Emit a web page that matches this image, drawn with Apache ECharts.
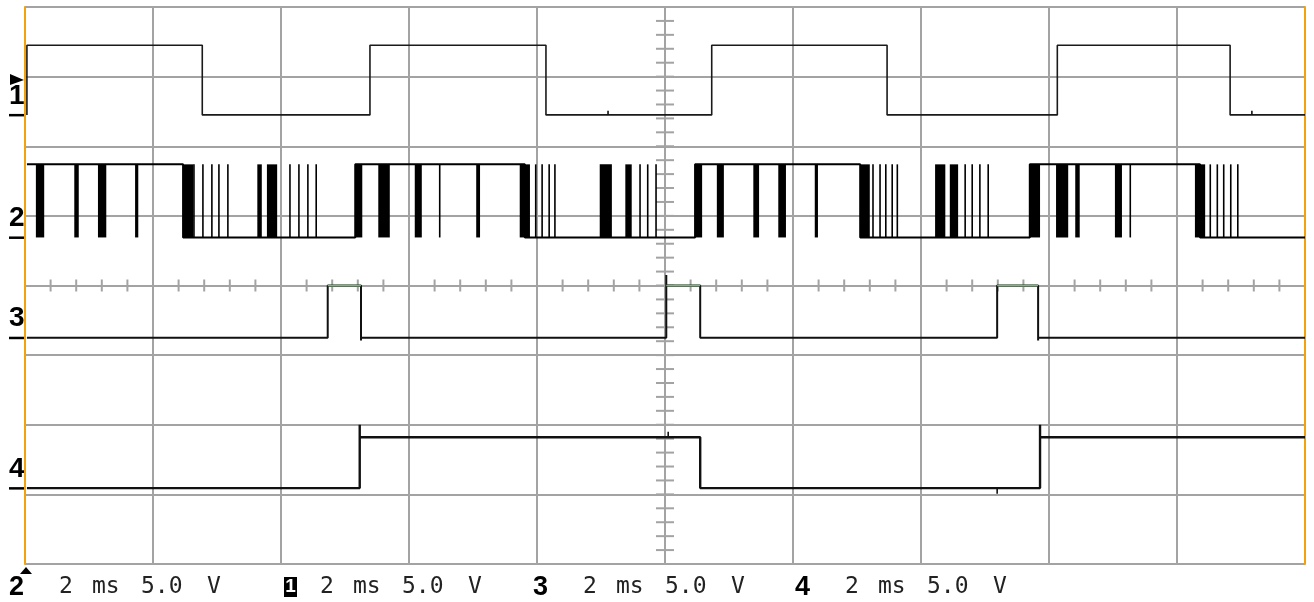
<!DOCTYPE html>
<html><head><meta charset="utf-8">
<script src="https://cdn.jsdelivr.net/npm/echarts@6/dist/echarts.min.js"></script>
<style>html,body{margin:0;padding:0;background:#fff}#c{width:1314px;height:602px}</style>
</head><body><div id="c"></div>
<script>
// Horizontal: time in ms (2 ms/div, 10 div). Vertical: screen divisions (0 bottom .. 8 top), 5 V/div
const T_MAX = 20;
const DIVS = 8;

// Channel 1
const ch1Lo = 6.45, ch1Hi = 7.45, ch1Trig = 6.95;
const ch1StartHigh = false;
const ch1Edges = [0.03, 2.77, 5.39, 8.14, 10.73, 13.47, 16.13, 18.83];
const ch1Glitch = [[9.11, 6.45, 6.51], [19.17, 6.45, 6.51]];

// Channel 2 (base level edges, plus dense bursts and thin pulses)
const ch2Lo = 4.69, ch2Hi = 5.74;
const ch2StartHigh = true;
const ch2Edges = [2.47, 5.16, 7.81, 10.47, 13.05, 15.70, 18.36];
const ch2Bars = [
  [0.17,0.30],[0.77,0.84],[1.14,1.27],[1.72,1.77],[2.47,2.63],[3.63,3.70],[3.78,3.94],[5.16,5.27],
  [5.52,5.70],[6.09,6.20],[7.05,7.11],[7.73,7.89],[8.98,9.17],[9.38,9.48],
  [10.47,10.58],[10.81,10.92],[11.38,11.47],[11.77,11.89],[12.34,12.39],[13.05,13.20],[14.22,14.38],[14.45,14.58],
  [15.70,15.86],[16.11,16.30],[16.41,16.48],[17.03,17.14],[18.28,18.44]
];
const ch2Spikes = [
  2.64,2.78,2.92,3.03,3.17, 4.14,4.28,4.42,4.55,
  6.48, 7.98,8.08,8.19,8.28, 9.61,9.73,9.86,
  13.25,13.36,13.45,13.55,13.63, 14.69,14.80,14.92,15.05,
  17.27, 18.52,18.63,18.73,18.84,18.95
];

// Channel 3
const ch3Lo = 3.25, ch3Hi = 4.0;
const ch3StartHigh = false;
const ch3Edges = [4.73, 5.25, 10.02, 10.55, 15.19, 15.83];
const ch3Over  = [null, 3.21, 4.15, null, null, 3.21];

// Channel 4
const ch4Lo = 1.09, ch4Hi = 1.82;
const ch4StartHigh = false;
const ch4Edges = [5.23, 10.55, 15.86];
const ch4Over  = [2.0, null, 2.0];
const ch4Glitch = [[15.19, 1.09, 1.01], [10.05, 1.82, 1.9]];

// Screen texts
const chNames = ['1','2','3','4'];
const footMarks = ['2','1','3','4'];
const footTokens = ['2','ms','5.0','V'];

function steps(startHigh, edges, lo, hi, over, t0) {
  let lvl = startHigh ? hi : lo;
  const pts = [[t0, lvl]];
  edges.forEach((t, i) => {
    const nxt = (lvl === hi) ? lo : hi;
    pts.push([t, lvl]);
    if (over && over[i] != null) pts.push([t, over[i]]);
    pts.push([t, nxt]);
    lvl = nxt;
  });
  pts.push([T_MAX, lvl]);
  return pts;
}
function highSegs(startHigh, edges) {
  const segs = []; let high = startHigh, from = 0;
  edges.forEach(t => { if (high) segs.push([from, t]); high = !high; from = t; });
  if (high) segs.push([from, T_MAX]);
  return segs;
}

const ch1Data = steps(ch1StartHigh, ch1Edges, ch1Lo, ch1Hi, null, ch1Edges[0]);
const ch2Data = steps(ch2StartHigh, ch2Edges, ch2Lo, ch2Hi, null, 0.03);
const ch3Data = steps(ch3StartHigh, ch3Edges, ch3Lo, ch3Hi, ch3Over, 0.03);
const ch4Data = steps(ch4StartHigh, ch4Edges, ch4Lo, ch4Hi, ch4Over, 0.03);
const ch3Green = highSegs(ch3StartHigh, ch3Edges);
const glitches = ch1Glitch.concat(ch4Glitch);

const hTicks = []; for (let k = 1; k < 50; k++) hTicks.push([k * 0.4]);
const vTicks = []; for (let k = 1; k < 40; k++) vTicks.push([k * 0.2]);

const chart = echarts.init(document.getElementById('c'), null, {renderer: 'canvas'});
const GRAY = '#a3a3a3', ORANGE = '#f2a20c';

const option = {
  backgroundColor: '#ffffff',
  animation: false,
  grid: {left: 25, top: 7, width: 1280, height: 557, containLabel: false},
  xAxis: [{
    type: 'value', min: 0, max: T_MAX, interval: 2,
    axisLine: {show: false}, axisTick: {show: false}, axisLabel: {show: false},
    splitLine: {show: true, showMinLine: true, showMaxLine: true, lineStyle: {color: GRAY, width: 2}}
  }],
  yAxis: [{
    type: 'value', min: 0, max: DIVS, interval: 1, position: 'left',
    axisLine: {show: true, onZero: false, lineStyle: {color: ORANGE, width: 2}},
    axisTick: {show: false}, axisLabel: {show: false},
    splitLine: {show: true, showMinLine: true, showMaxLine: true, lineStyle: {color: GRAY, width: 2}}
  }, {
    type: 'value', min: 0, max: DIVS, interval: 1, position: 'right',
    axisLine: {show: true, onZero: false, lineStyle: {color: ORANGE, width: 2}},
    axisTick: {show: false}, axisLabel: {show: false}, splitLine: {show: false}
  }],
  series: [
    { // minor ticks on horizontal centre line
      type: 'custom', z: 1, silent: true, data: hTicks,
      renderItem(params, api) {
        const p = api.coord([api.value(0), DIVS / 2]);
        return {type: 'line', shape: {x1: p[0], y1: p[1] - 6, x2: p[0], y2: p[1] + 6}, style: {stroke: GRAY, lineWidth: 2}};
      }
    },
    { // minor ticks on vertical centre line
      type: 'custom', z: 1, silent: true, data: vTicks,
      renderItem(params, api) {
        const p = api.coord([T_MAX / 2, api.value(0)]);
        return {type: 'line', shape: {x1: p[0] - 9, y1: p[1], x2: p[0] + 9, y2: p[1]}, style: {stroke: GRAY, lineWidth: 2}};
      }
    },
    {type: 'line', name: 'CH1', data: ch1Data, showSymbol: false, z: 5, lineStyle: {color: '#1a1a1a', width: 1.6}},
    {type: 'line', name: 'CH2', data: ch2Data, showSymbol: false, z: 5, lineStyle: {color: '#000', width: 2}},
    {
      type: 'custom', name: 'CH2 bursts', z: 6, data: ch2Bars,
      renderItem(params, api) {
        const a = api.coord([api.value(0), ch2Hi]);
        const b = api.coord([api.value(1), ch2Lo]);
        return {type: 'rect', shape: {x: a[0], y: a[1], width: Math.max(b[0] - a[0], 2), height: b[1] - a[1]}, style: {fill: '#000'}};
      }
    },
    {
      type: 'custom', name: 'CH2 pulses', z: 6, data: ch2Spikes.map(t => [t]),
      renderItem(params, api) {
        const a = api.coord([api.value(0), ch2Hi]);
        const b = api.coord([api.value(0), ch2Lo]);
        return {type: 'line', shape: {x1: a[0], y1: a[1], x2: b[0], y2: b[1]}, style: {stroke: '#000', lineWidth: 1.6}};
      }
    },
    {type: 'line', name: 'CH3', data: ch3Data, showSymbol: false, z: 5, lineStyle: {color: '#111', width: 2}},
    {
      type: 'custom', name: 'CH3 high', z: 7, data: ch3Green,
      renderItem(params, api) {
        const a = api.coord([api.value(0), ch3Hi]);
        const b = api.coord([api.value(1), ch3Hi]);
        return {type: 'line', shape: {x1: a[0], y1: a[1], x2: b[0], y2: b[1]}, style: {stroke: '#6cc36c', lineWidth: 1.6}};
      }
    },
    {type: 'line', name: 'CH4', data: ch4Data, showSymbol: false, z: 5, lineStyle: {color: '#111', width: 2.4}},
    {
      type: 'custom', name: 'glitches', z: 6, data: glitches,
      renderItem(params, api) {
        const a = api.coord([api.value(0), api.value(1)]);
        const b = api.coord([api.value(0), api.value(2)]);
        return {type: 'line', shape: {x1: a[0], y1: a[1], x2: b[0], y2: b[1]}, style: {stroke: '#111', lineWidth: 1.6}};
      }
    }
  ]
};
chart.setOption(option);

// annotations placed through the chart's own scales
const toPx = (t, v) => chart.convertToPixel({xAxisIndex: 0, yAxisIndex: 0}, [t, v]);
const gfx = [];
const levels = [ch1Lo, ch2Lo, ch3Lo, ch4Lo];
const x0 = toPx(0, 0)[0];
levels.forEach((lv, i) => {
  const y = toPx(0, lv)[1];
  gfx.push({type: 'text', x: x0 - 16, y: y - 5, style: {text: chNames[i], font: 'bold 28px "Liberation Sans", Arial, sans-serif', fill: '#000', textVerticalAlign: 'bottom', textAlign: 'left'}});
  gfx.push({type: 'rect', shape: {x: x0 - 16, y: y - 1, width: 16, height: 2.5}, style: {fill: '#000'}});
});
const ty = toPx(0, ch1Trig)[1];
gfx.push({type: 'polygon', shape: {points: [[x0 - 15, ty - 6], [x0 - 1, ty], [x0 - 15, ty + 5]]}, style: {fill: '#000'}});
const yb = toPx(0, 0)[1];
gfx.push({type: 'polygon', shape: {points: [[x0 + 1, yb + 3], [x0 - 5, yb + 10], [x0 + 7, yb + 10]]}, style: {fill: '#000'}});

const groupX = [59, 320, 583, 845];
const markX = [9, 284, 533, 795];
const tokOff = [0, 33, 82, 148];
const footY = 587;
footMarks.forEach((m, i) => {
  if (i === 1) {
    gfx.push({type: 'rect', shape: {x: markX[i], y: footY - 10, width: 13, height: 20}, style: {fill: '#000'}});
    gfx.push({type: 'text', x: markX[i] + 6.5, y: footY, style: {text: m, font: 'bold 19px "Liberation Sans", Arial, sans-serif', fill: '#fff', textAlign: 'center', textVerticalAlign: 'middle'}});
  } else {
    gfx.push({type: 'text', x: markX[i], y: footY + 1, style: {text: m, font: 'bold 27px "Liberation Sans", Arial, sans-serif', fill: '#000', textAlign: 'left', textVerticalAlign: 'middle'}});
  }
  footTokens.forEach((tk, j) => {
    gfx.push({type: 'text', x: groupX[i] + tokOff[j], y: footY, style: {text: tk, font: '23px "DejaVu Sans Mono", monospace', fill: '#222', textAlign: 'left', textVerticalAlign: 'middle'}});
  });
});
chart.setOption({graphic: {elements: gfx}});
</script></body></html>
